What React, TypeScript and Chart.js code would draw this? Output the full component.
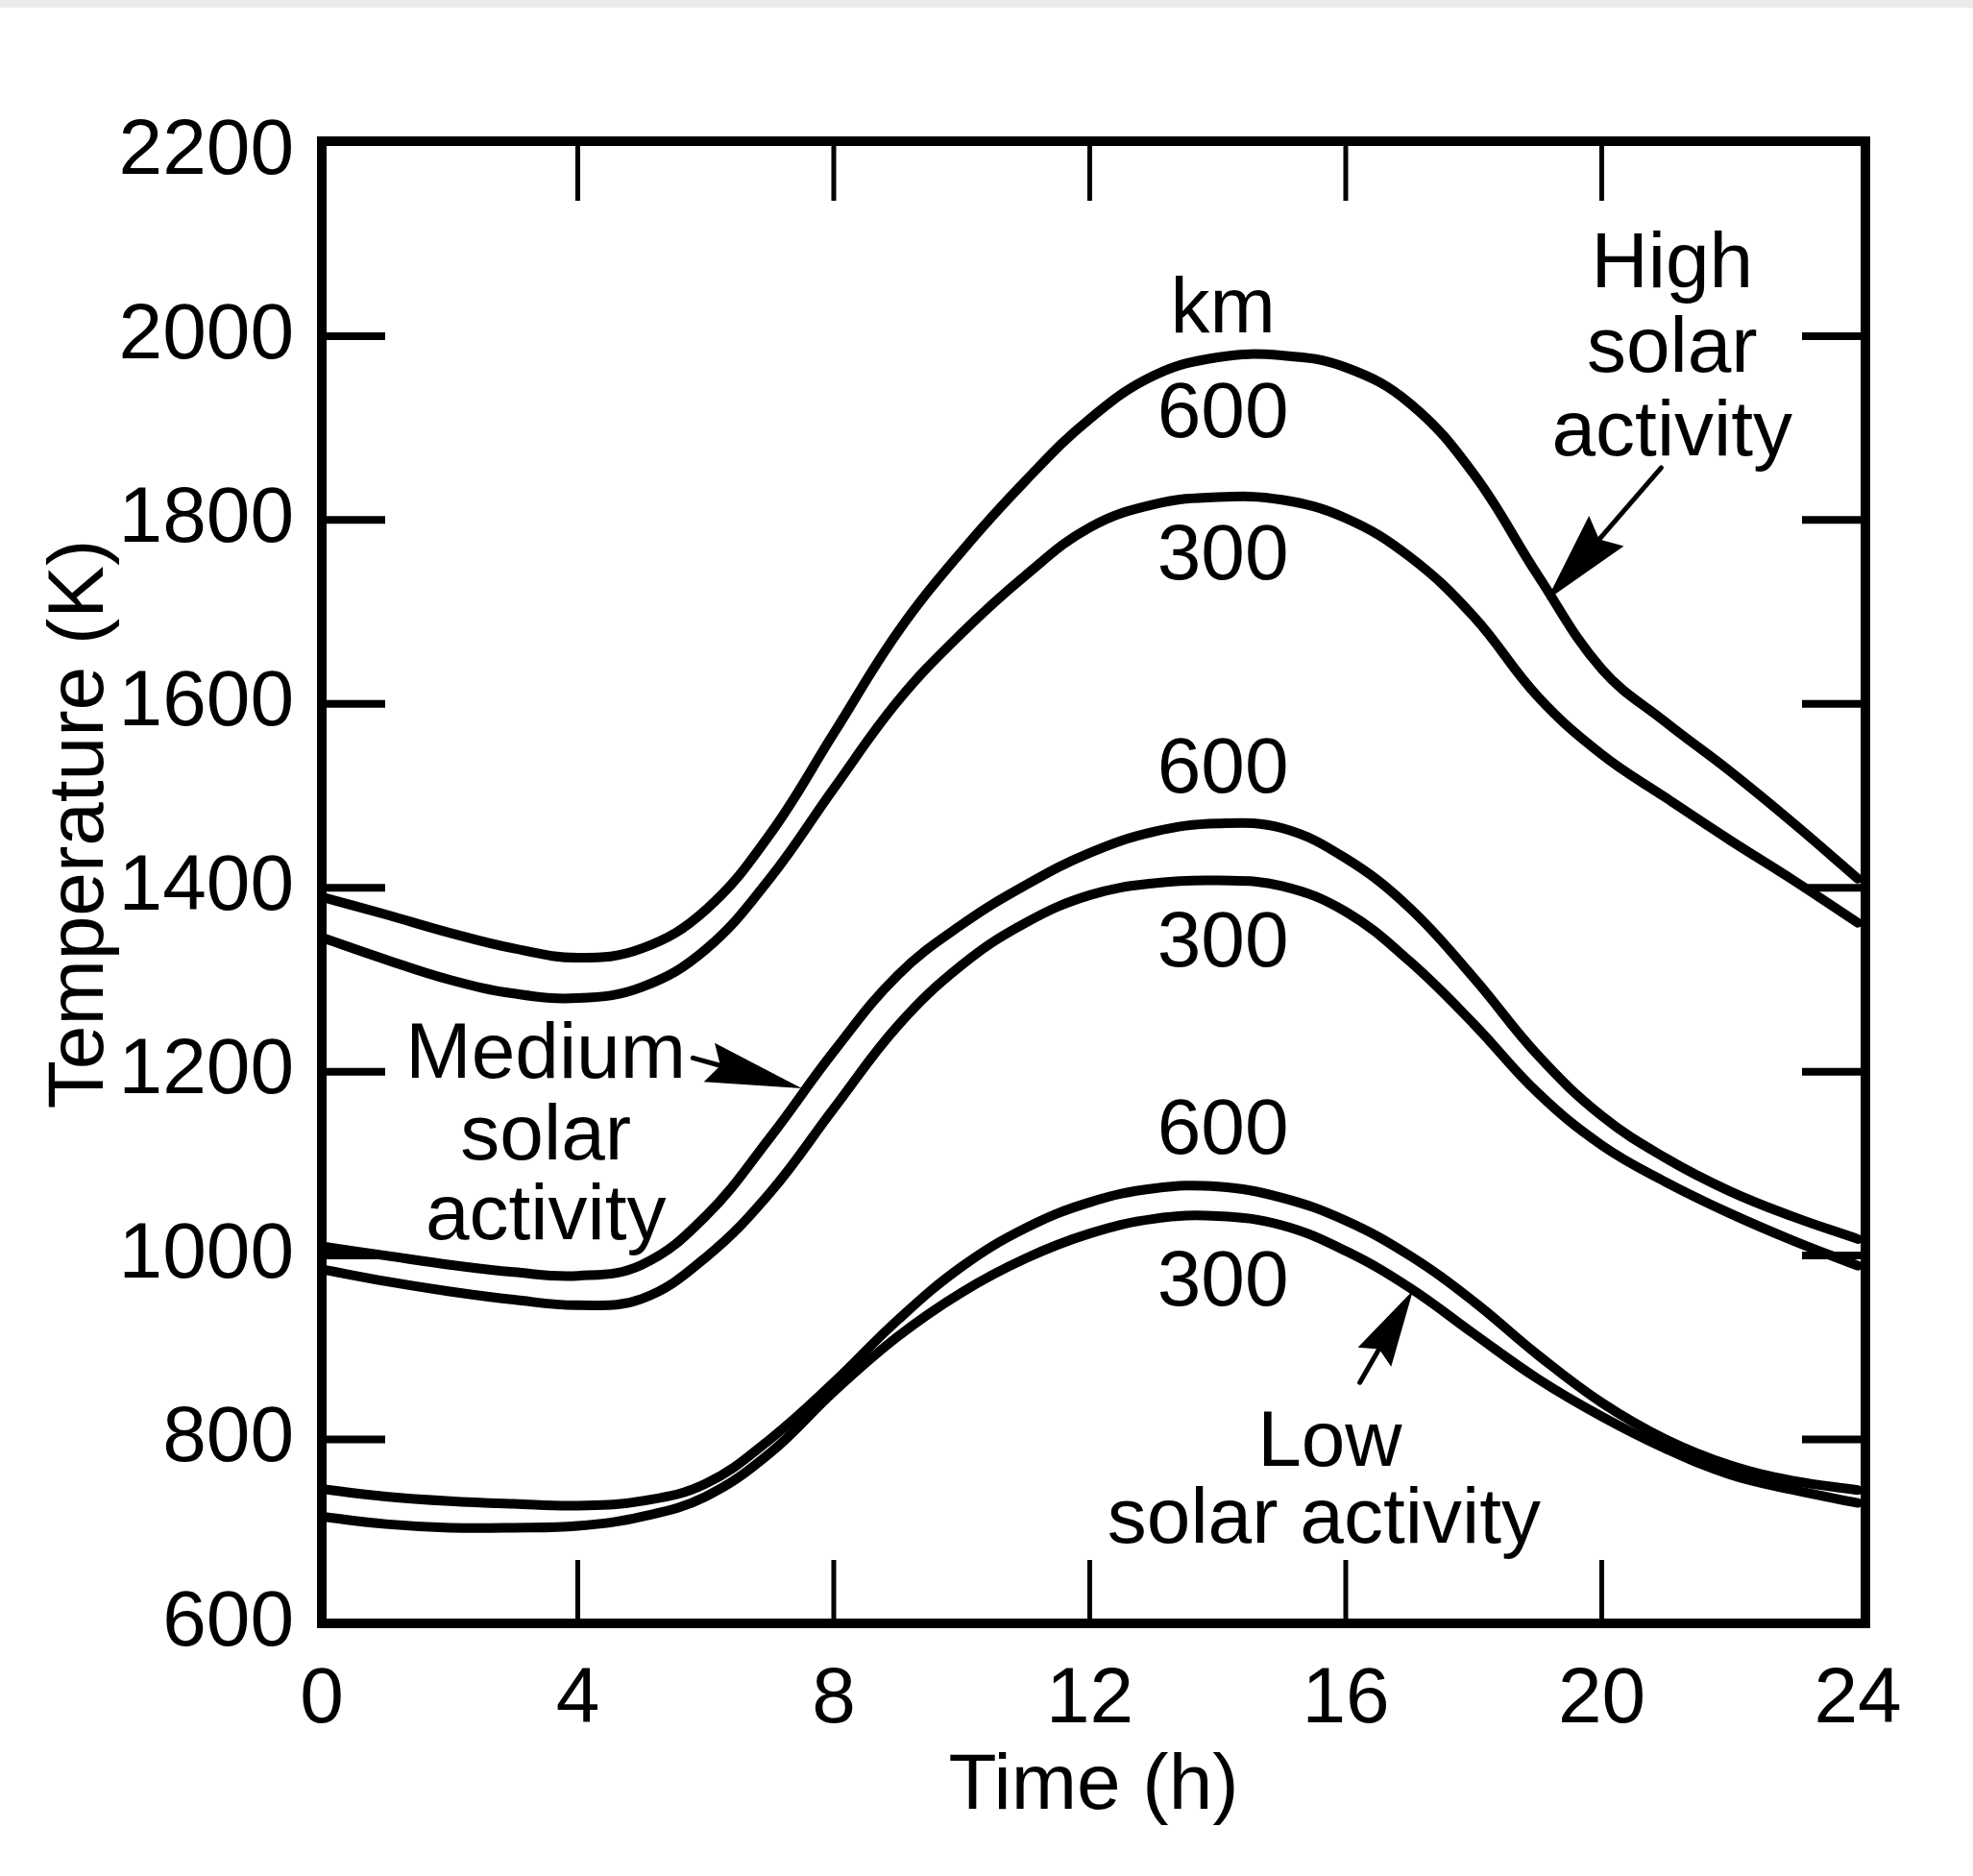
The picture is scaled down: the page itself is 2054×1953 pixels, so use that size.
import React, { useEffect, useRef } from 'react';
import { Chart, registerables } from 'chart.js';

Chart.register(...registerables);

// ---- Data ----
const hours = [0, 1, 2, 3, 4, 5, 6, 7, 8, 9, 10, 11, 12, 13, 14, 15, 16, 17, 18, 19, 20, 21, 22, 23, 24];

const high600 = [1390, 1371, 1351, 1334, 1324, 1334, 1376, 1458, 1568, 1678, 1766, 1843, 1910, 1957, 1977, 1979, 1966, 1927, 1850, 1740, 1638, 1580, 1527, 1470, 1410];
const high300 = [1346, 1322, 1300, 1285, 1280, 1292, 1333, 1410, 1508, 1603, 1677, 1740, 1792, 1817, 1825, 1822, 1802, 1760, 1695, 1608, 1545, 1498, 1452, 1408, 1362];
const medium600 = [1010, 1000, 990, 982, 978, 990, 1043, 1128, 1222, 1305, 1360, 1403, 1438, 1461, 1470, 1465, 1432, 1378, 1302, 1218, 1152, 1106, 1070, 1042, 1018];
const medium300 = [985, 972, 961, 952, 946, 953, 998, 1068, 1160, 1250, 1316, 1362, 1392, 1405, 1408, 1402, 1374, 1320, 1252, 1177, 1120, 1080, 1046, 1016, 989];
const low600 = [746, 738, 733, 730, 728, 733, 752, 800, 862, 930, 988, 1030, 1058, 1073, 1075, 1063, 1038, 1000, 950, 892, 840, 800, 772, 755, 745];
const low300 = [716, 708, 704, 704, 706, 716, 738, 785, 852, 912, 960, 997, 1024, 1040, 1043, 1033, 1005, 965, 915, 866, 825, 790, 762, 745, 731];

const xTickValues = [0, 4, 8, 12, 16, 20, 24];
const yTickValues = [600, 800, 1000, 1200, 1400, 1600, 1800, 2000, 2200];
const xInnerTicks = [4, 8, 12, 16, 20];
const yInnerTicks = [800, 1000, 1200, 1400, 1600, 1800, 2000];

const xTitle = 'Time (h)';
const yTitle = 'Temperature (K)';

// annotation texts, anchored in data coordinates (hours, K)
const labelTexts = ['km', '600', '300', '600', '300', '600', '300', 'High', 'solar', 'activity', 'Medium', 'solar', 'activity', 'Low', 'solar activity'];
const labelHours = [14.08, 14.08, 14.08, 14.08, 14.08, 14.08, 14.08, 21.1, 21.1, 21.1, 3.5, 3.5, 3.5, 15.75, 15.66];
const labelTemps = [2028, 1914, 1759, 1527, 1338, 1134, 969, 2077, 1985, 1894, 1217, 1128, 1041, 795, 711];

// arrows: tail -> tip, in data coordinates
const arrowTailHours = [20.93, 5.8, 16.22];
const arrowTailTemps = [1857, 1215, 862];
const arrowTipHours = [19.14, 7.5, 17.05];
const arrowTipTemps = [1713, 1182, 962];

const seriesList = [
  { name: 'High 600 km', values: high600 },
  { name: 'High 300 km', values: high300 },
  { name: 'Medium 600 km', values: medium600 },
  { name: 'Medium 300 km', values: medium300 },
  { name: 'Low 600 km', values: low600 },
  { name: 'Low 300 km', values: low300 },
];

const FONT = "'Liberation Sans', Arial, Helvetica, sans-serif";
const FONT_SIZE = 82;

function drawArrow(ctx: CanvasRenderingContext2D, x1: number, y1: number, x2: number, y2: number, headLen: number, headW: number) {
  const dx = x2 - x1;
  const dy = y2 - y1;
  const len = Math.hypot(dx, dy);
  const ux = dx / len;
  const uy = dy / len;
  const hl = Math.min(headLen, len);
  const bx = x2 - ux * hl;
  const by = y2 - uy * hl;
  ctx.save();
  ctx.strokeStyle = '#000';
  ctx.fillStyle = '#000';
  ctx.lineWidth = 5;
  ctx.lineCap = 'round';
  ctx.beginPath();
  ctx.moveTo(x1, y1);
  ctx.lineTo(bx + ux * 10, by + uy * 10);
  ctx.stroke();
  ctx.beginPath();
  ctx.moveTo(x2, y2);
  ctx.lineTo(bx - uy * headW / 2, by + ux * headW / 2);
  ctx.lineTo(bx + ux * hl * 0.12, by + uy * hl * 0.12);
  ctx.lineTo(bx + uy * headW / 2, by - ux * headW / 2);
  ctx.closePath();
  ctx.fill();
  ctx.restore();
}

const framePlugin = {
  id: 'frameAndNotes',
  beforeDraw(chart: any) {
    const { ctx, width, height } = chart;
    ctx.save();
    ctx.fillStyle = '#ffffff';
    ctx.fillRect(0, 0, width, height);
    ctx.fillStyle = '#ebebea';
    ctx.fillRect(0, 0, width, 8);
    ctx.restore();
  },
  afterDraw(chart: any) {
    const { ctx, chartArea } = chart;
    const { left, right, top, bottom } = chartArea;
    const xs = chart.scales.x;
    const ys = chart.scales.y;
    ctx.save();
    ctx.strokeStyle = '#000';
    ctx.lineCap = 'butt';

    // inward ticks on left/right
    ctx.lineWidth = 8;
    yInnerTicks.forEach((v) => {
      const py = ys.getPixelForValue(v);
      ctx.beginPath();
      ctx.moveTo(left, py);
      ctx.lineTo(left + 66, py);
      ctx.moveTo(right, py);
      ctx.lineTo(right - 66, py);
      ctx.stroke();
    });
    // inward ticks on top/bottom
    ctx.lineWidth = 5;
    xInnerTicks.forEach((v) => {
      const px = xs.getPixelForValue(v);
      ctx.beginPath();
      ctx.moveTo(px, bottom);
      ctx.lineTo(px, bottom - 66);
      ctx.moveTo(px, top);
      ctx.lineTo(px, top + 62);
      ctx.stroke();
    });
    // frame
    ctx.lineWidth = 10;
    ctx.lineJoin = 'miter';
    ctx.strokeRect(left, top, right - left, bottom - top);

    // annotation texts
    ctx.fillStyle = '#000';
    ctx.font = `${FONT_SIZE}px ${FONT}`;
    ctx.textAlign = 'center';
    ctx.textBaseline = 'middle';
    labelTexts.forEach((t, i) => {
      ctx.fillText(t, xs.getPixelForValue(labelHours[i]), ys.getPixelForValue(labelTemps[i]));
    });

    // arrows
    const heads = [[95, 48], [100, 42], [80, 40]];
    arrowTailHours.forEach((_, i) => {
      drawArrow(
        ctx,
        xs.getPixelForValue(arrowTailHours[i]),
        ys.getPixelForValue(arrowTailTemps[i]),
        xs.getPixelForValue(arrowTipHours[i]),
        ys.getPixelForValue(arrowTipTemps[i]),
        heads[i][0],
        heads[i][1]
      );
    });

    // axis titles
    ctx.font = `${FONT_SIZE}px ${FONT}`;
    ctx.textAlign = 'center';
    ctx.textBaseline = 'middle';
    ctx.fillText(xTitle, (left + right) / 2, 1860);
    ctx.translate(84, 858);
    ctx.rotate(-Math.PI / 2);
    ctx.fillText(yTitle, 0, 0);
    ctx.restore();
  },
};

export default function App() {
  const canvasRef = useRef<HTMLCanvasElement>(null);

  useEffect(() => {
    const canvas = canvasRef.current;
    if (!canvas) return;
    const chart = new Chart(canvas, {
      type: 'line',
      data: {
        datasets: seriesList.map((s) => ({
          label: s.name,
          data: hours.map((h, i) => ({ x: h, y: s.values[i] })),
          borderColor: '#000000',
          backgroundColor: '#000000',
          borderWidth: 10,
          pointRadius: 0,
          pointHoverRadius: 0,
          fill: false,
          tension: 0.4,
          borderCapStyle: 'round' as const,
          borderJoinStyle: 'round' as const,
        })),
      },
      options: {
        responsive: false,
        animation: false,
        devicePixelRatio: 1,
        layout: { padding: { top: 147, right: 112, left: 0, bottom: 0 } },
        plugins: {
          legend: { display: false },
          tooltip: { enabled: false },
          title: { display: false },
        },
        scales: {
          x: {
            type: 'linear',
            min: 0,
            max: 24.12,
            afterFit: (s: any) => {
              s.height = 263;
            },
            afterBuildTicks: (s: any) => {
              s.ticks = xTickValues.map((v) => ({ value: v }));
            },
            ticks: {
              autoSkip: false,
              maxRotation: 0,
              padding: 23,
              color: '#000',
              font: { family: FONT, size: FONT_SIZE },
              callback: (v: any) => String(v),
            },
            grid: { display: false },
            border: { display: false },
          },
          y: {
            type: 'linear',
            min: 600,
            max: 2212,
            afterFit: (s: any) => {
              s.width = 335;
            },
            afterBuildTicks: (s: any) => {
              s.ticks = yTickValues.map((v) => ({ value: v }));
            },
            ticks: {
              autoSkip: false,
              padding: 21,
              color: '#000',
              font: { family: FONT, size: FONT_SIZE },
              callback: (v: any) => String(v),
            },
            grid: { display: false },
            border: { display: false },
          },
        },
      },
      plugins: [framePlugin],
    });
    return () => chart.destroy();
  }, []);

  return (
    <div style={{ position: 'fixed', left: 0, top: 0, width: 2054, height: 1953, background: '#fff' }}>
      <canvas ref={canvasRef} width={2054} height={1953} style={{ display: 'block', width: 2054, height: 1953 }} />
    </div>
  );
}
